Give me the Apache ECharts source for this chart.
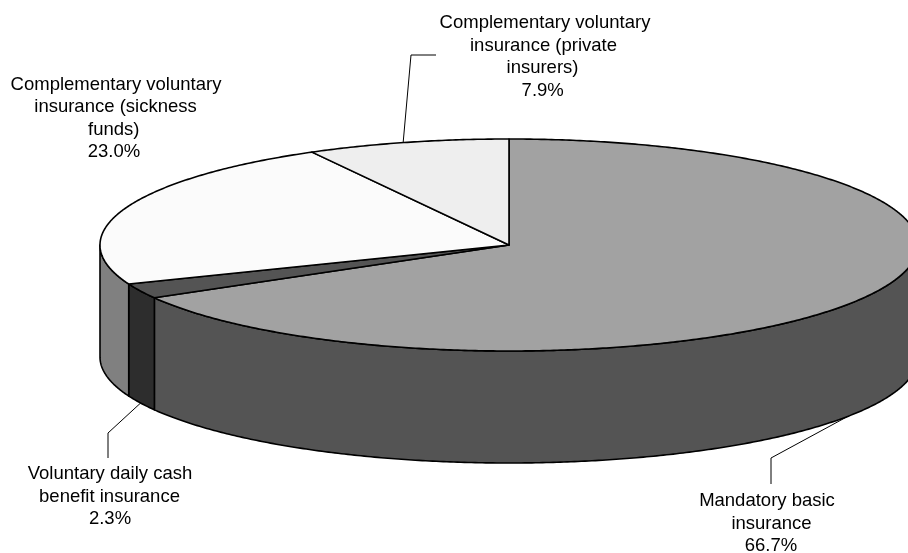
<!DOCTYPE html>
<html><head><meta charset="utf-8">
<style>html,body{margin:0;padding:0;background:#fff}#c{width:908px;height:553px}</style>
<script src="https://cdn.jsdelivr.net/npm/echarts@6/dist/echarts.min.js"></script>
</head><body><div id="c"></div>
<script>
const categories = [['Mandatory basic','insurance'],['Voluntary daily cash','benefit insurance'],['Complementary voluntary','insurance (sickness','funds)'],['Complementary voluntary','insurance (private','insurers)']];
const shares = [66.7, 2.3, 23.0, 7.9];
const topColors = ['#a2a2a2','#545454','#fbfbfb','#eeeeee'];
const sideColors = ['#545454','#2d2d2d','#808080','#808080'];
const labelLineX = [[767,771.5,771],[110,109.5,110],[116,115.5,113.7,114],[545,543.5,542.5,542.7]];
const labelMiddleY = [523.5,496.5,118.5,57];
const leaderRoutes = [[[771,458],[771,484]],[[108,433],[108,458]],null,[[411,55],[436,55]]];
const leaderAngleShift = [4,0,0,-0.6];
const pie = {cx:509, cy:245, rx:409, ry:106, depth:112};

const FONT = '18.5px "Liberation Sans", Arial, sans-serif';
const LINE_STEP = 22.5;
const toAngle = v => v/100*360;
const pt = (deg, drop=0) => {
  const r = deg*Math.PI/180;
  return [pie.cx+pie.rx*Math.sin(r), pie.cy-pie.ry*Math.cos(r)+drop];
};
const arc = (a,b,drop=0) => {
  const out=[];
  const n=Math.max(2,Math.ceil(Math.abs(b-a)*2));
  for(let i=0;i<=n;i++) out.push(pt(a+(b-a)*i/n,drop));
  return out;
};
const line = {stroke:'#000',lineWidth:1.6,lineJoin:'round'};

function renderSlice(params, api){
  const i = params.dataIndex;
  const start = toAngle(shares.slice(0,i).reduce((a,b)=>a+b,0));
  // the rounded shares sum to 99.9, so the last slice closes the circle
  const end = i===shares.length-1 ? 360 : start + toAngle(api.value(1));
  const mid = (start+end)/2 + leaderAngleShift[i];
  const kids = [];
  const a = Math.max(start,90), b = Math.min(end,270);
  if (b>a) {
    kids.push({type:'polygon',shape:{points:arc(a,b).concat(arc(b,a,pie.depth))},
      style:{fill:sideColors[i],...line}});
  }
  kids.push({type:'polygon',shape:{points:[[pie.cx,pie.cy]].concat(arc(start,end))},
    style:{fill:topColors[i],...line}});
  if (leaderRoutes[i]) {
    const front = mid>90 && mid<270;
    kids.push({type:'polyline',shape:{points:[pt(mid,front?pie.depth:0)].concat(leaderRoutes[i])},
      style:{fill:null,stroke:'#000',lineWidth:1}});
  }
  const lines = categories[i].concat(api.value(1).toFixed(1)+'%');
  lines.forEach((t,k)=>{
    kids.push({type:'text',x:labelLineX[i][k],y:labelMiddleY[i]+(k-(lines.length-1)/2)*LINE_STEP,
      style:{text:t,font:FONT,fill:'#000',align:'center',verticalAlign:'middle'}});
  });
  return {type:'group',children:kids};
}
const chart = echarts.init(document.getElementById('c'),null,{renderer:'canvas'});
chart.setOption({
  animation:false,
  backgroundColor:'#fff',
  series:[{type:'custom',coordinateSystem:'none',renderItem:renderSlice,
    data:shares.map((v,i)=>[i,v]),silent:true}]
});
</script></body></html>
